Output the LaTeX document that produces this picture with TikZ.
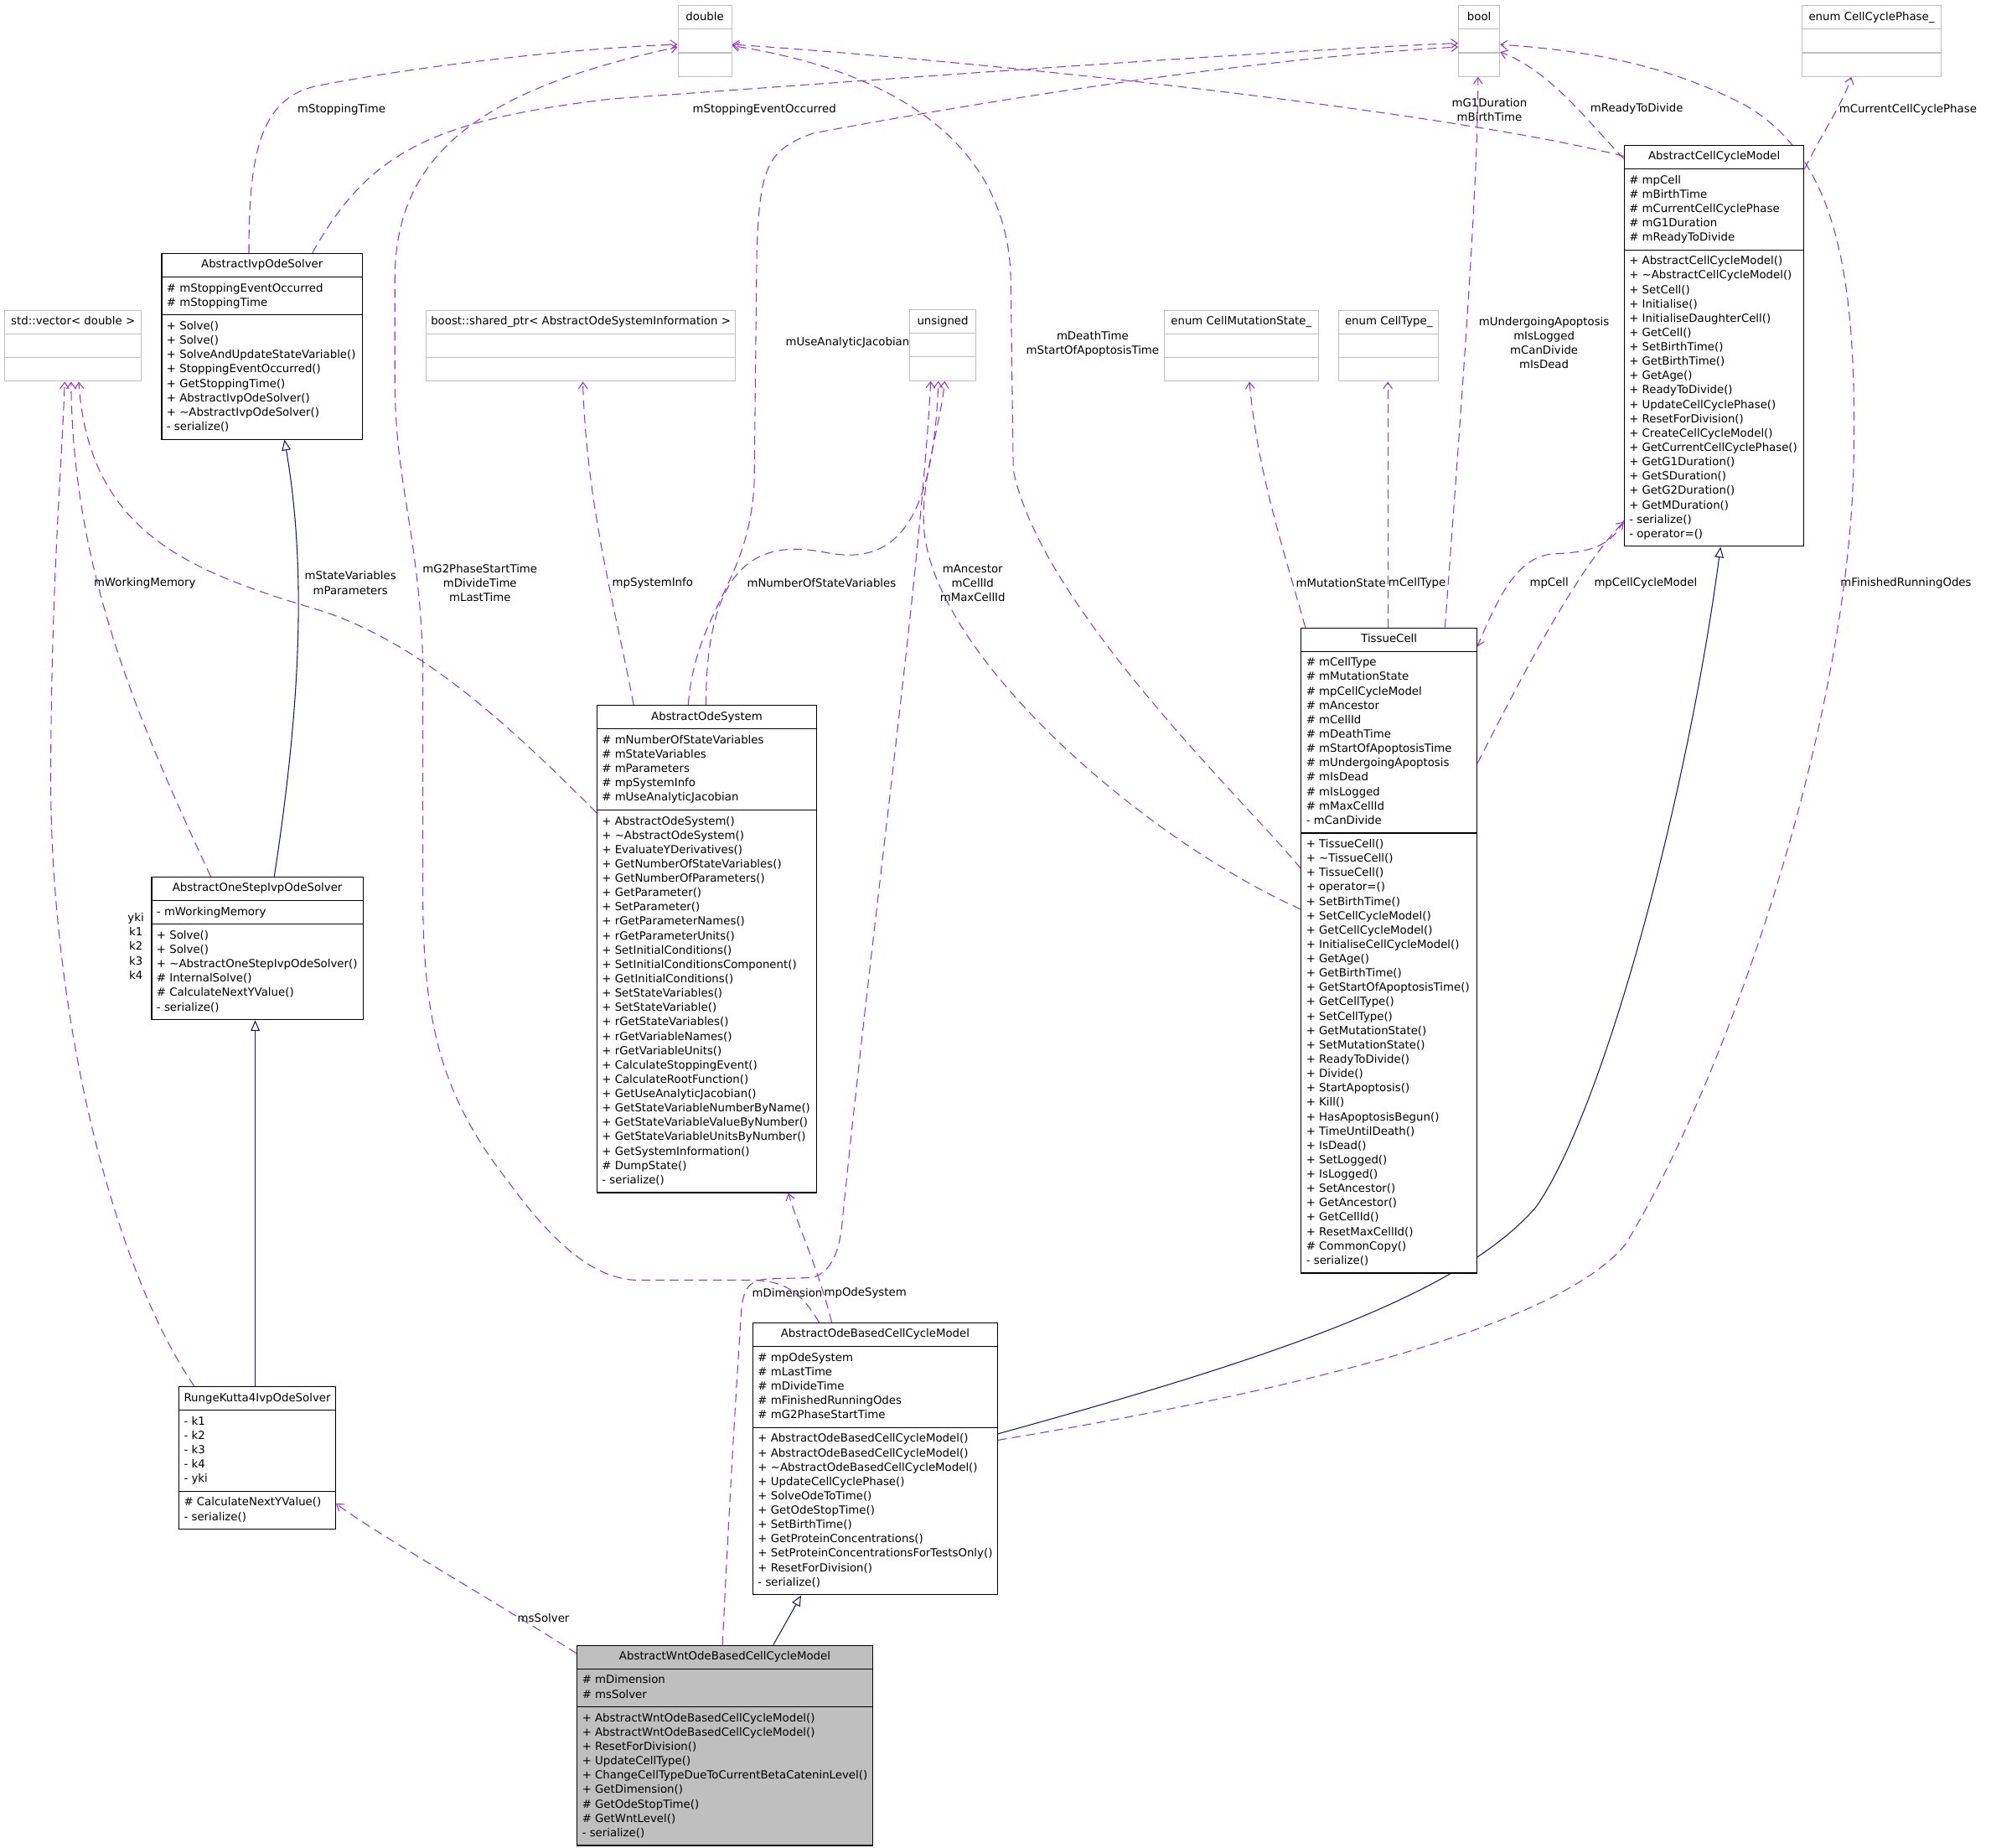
\documentclass[tikz,border=0pt]{standalone}
\usepackage{fontspec}
\setmainfont{DejaVu Sans}
\usetikzlibrary{shapes.multipart,arrows.meta,backgrounds}
\definecolor{orchid}{HTML}{9A32CD}
\definecolor{midnight}{HTML}{191970}
\definecolor{grey75}{HTML}{BFBFBF}
\newcommand{\mlist}[1]{\begin{tabular}{@{}l@{}}#1\end{tabular}}
\newcommand{\blank}{\mlist{\phantom{x}}}
\newcommand{\dtor}{\textasciitilde}

\begin{document}
\begin{tikzpicture}[
  x=0.025cm,y=-0.025cm,
  font=\fontsize{6.25}{8.04}\selectfont,
  cls/.style={rectangle split,rectangle split parts=3,draw=black,fill=white,
              line width=0.5pt,anchor=north west,inner xsep=2.8pt,inner ysep=2.35pt,
              rectangle split part align={center,left,left}},
  ext/.style={cls,draw=grey75},
  focus/.style={cls,fill=grey75},
  use/.style={draw=orchid,line width=0.5pt,dash pattern=on 5pt off 3pt,
              -{Straight Barb[length=3.5pt,width=5pt]}},
  isa/.style={draw=midnight,line width=0.5pt,
              -{Triangle[open,length=6pt,width=5pt,fill=white]}},
  lbl/.style={align=center,inner sep=0pt}
]
  \useasboundingbox (0,0) rectangle (1568,1455);

  \node[ext,minimum width=1.055cm] (dbl) at (533.6,4)
    {\mlist{double}\nodepart{two}\blank\nodepart{three}\blank};
  \node[ext,minimum width=0.81cm] (bool) at (1148.3,4)
    {\mlist{bool}\nodepart{two}\blank\nodepart{three}\blank};
  \node[ext,minimum width=2.74cm] (ccp) at (1418.8,4)
    {\mlist{enum CellCyclePhase\_}\nodepart{two}\blank\nodepart{three}\blank};
  \node[ext,minimum width=2.69cm] (vec) at (3.4,244)
    {\mlist{std::vector< double >}\nodepart{two}\blank\nodepart{three}\blank};
  \node[ext,minimum width=6.03cm] (shp) at (335.1,244)
    {\mlist{boost::shared\_ptr< AbstractOdeSystemInformation >}\nodepart{two}\blank\nodepart{three}\blank};
  \node[ext,minimum width=1.315cm] (uns) at (715.8,243.5)
    {\mlist{unsigned}\nodepart{two}\blank\nodepart{three}\blank};
  \node[ext,minimum width=3.03cm] (cms) at (916.6,244)
    {\mlist{enum CellMutationState\_}\nodepart{two}\blank\nodepart{three}\blank};
  \node[ext,minimum width=1.97cm] (cty) at (1053.9,244)
    {\mlist{enum CellType\_}\nodepart{two}\blank\nodepart{three}\blank};

  \node[cls,minimum width=3.95cm] (ivp) at (127,199.2)
    {\mlist{AbstractIvpOdeSolver}
     \nodepart{two}\mlist{\# mStoppingEventOccurred\\\# mStoppingTime}
     \nodepart{three}\mlist{+ Solve()\\+ Solve()\\+ SolveAndUpdateStateVariable()\\
       + StoppingEventOccurred()\\+ GetStoppingTime()\\+ AbstractIvpOdeSolver()\\
       + \dtor AbstractIvpOdeSolver()\\- serialize()}};

  \node[cls,minimum width=4.16cm] (osi) at (119.1,690.2)
    {\mlist{AbstractOneStepIvpOdeSolver}
     \nodepart{two}\mlist{- mWorkingMemory}
     \nodepart{three}\mlist{+ Solve()\\+ Solve()\\+ \dtor AbstractOneStepIvpOdeSolver()\\
       \# InternalSolve()\\\# CalculateNextYValue()\\- serialize()}};

  \node[cls,minimum width=3.065cm] (rk4) at (140.6,1091.5)
    {\mlist{RungeKutta4IvpOdeSolver}
     \nodepart{two}\mlist{- k1\\- k2\\- k3\\- k4\\- yki}
     \nodepart{three}\mlist{\# CalculateNextYValue()\\- serialize()}};

  \node[cls,minimum width=4.325cm] (aos) at (469.8,555)
    {\mlist{AbstractOdeSystem}
     \nodepart{two}\mlist{\# mNumberOfStateVariables\\\# mStateVariables\\\# mParameters\\
       \# mpSystemInfo\\\# mUseAnalyticJacobian}
     \nodepart{three}\mlist{+ AbstractOdeSystem()\\+ \dtor AbstractOdeSystem()\\
       + EvaluateYDerivatives()\\+ GetNumberOfStateVariables()\\+ GetNumberOfParameters()\\
       + GetParameter()\\+ SetParameter()\\+ rGetParameterNames()\\+ rGetParameterUnits()\\
       + SetInitialConditions()\\+ SetInitialConditionsComponent()\\+ GetInitialConditions()\\
       + SetStateVariables()\\+ SetStateVariable()\\+ rGetStateVariables()\\
       + rGetVariableNames()\\+ rGetVariableUnits()\\+ CalculateStoppingEvent()\\
       + CalculateRootFunction()\\+ GetUseAnalyticJacobian()\\+ GetStateVariableNumberByName()\\
       + GetStateVariableValueByNumber()\\+ GetStateVariableUnitsByNumber()\\
       + GetSystemInformation()\\\# DumpState()\\- serialize()}};

  \node[cls,minimum width=3.54cm] (acm) at (1278.8,114)
    {\mlist{AbstractCellCycleModel}
     \nodepart{two}\mlist{\# mpCell\\\# mBirthTime\\\# mCurrentCellCyclePhase\\
       \# mG1Duration\\\# mReadyToDivide}
     \nodepart{three}\mlist{+ AbstractCellCycleModel()\\+ \dtor AbstractCellCycleModel()\\
       + SetCell()\\+ Initialise()\\+ InitialiseDaughterCell()\\+ GetCell()\\+ SetBirthTime()\\
       + GetBirthTime()\\+ GetAge()\\+ ReadyToDivide()\\+ UpdateCellCyclePhase()\\
       + ResetForDivision()\\+ CreateCellCycleModel()\\+ GetCurrentCellCyclePhase()\\
       + GetG1Duration()\\+ GetSDuration()\\+ GetG2Duration()\\+ GetMDuration()\\
       - serialize()\\- operator=()}};

  \node[cls,minimum width=3.46cm] (tc) at (1024.4,494)
    {\mlist{TissueCell}
     \nodepart{two}\mlist{\# mCellType\\\# mMutationState\\\# mpCellCycleModel\\\# mAncestor\\
       \# mCellId\\\# mDeathTime\\\# mStartOfApoptosisTime\\\# mUndergoingApoptosis\\
       \# mIsDead\\\# mIsLogged\\\# mMaxCellId\\- mCanDivide}
     \nodepart{three}\mlist{+ TissueCell()\\+ \dtor TissueCell()\\+ TissueCell()\\+ operator=()\\
       + SetBirthTime()\\+ SetCellCycleModel()\\+ GetCellCycleModel()\\
       + InitialiseCellCycleModel()\\+ GetAge()\\+ GetBirthTime()\\+ GetStartOfApoptosisTime()\\
       + GetCellType()\\+ SetCellType()\\+ GetMutationState()\\+ SetMutationState()\\
       + ReadyToDivide()\\+ Divide()\\+ StartApoptosis()\\+ Kill()\\+ HasApoptosisBegun()\\
       + TimeUntilDeath()\\+ IsDead()\\+ SetLogged()\\+ IsLogged()\\+ SetAncestor()\\
       + GetAncestor()\\+ GetCellId()\\+ ResetMaxCellId()\\\# CommonCopy()\\- serialize()}};

  \node[cls,minimum width=4.79cm] (aob) at (592.6,1041.3)
    {\mlist{AbstractOdeBasedCellCycleModel}
     \nodepart{two}\mlist{\# mpOdeSystem\\\# mLastTime\\\# mDivideTime\\
       \# mFinishedRunningOdes\\\# mG2PhaseStartTime}
     \nodepart{three}\mlist{+ AbstractOdeBasedCellCycleModel()\\+ AbstractOdeBasedCellCycleModel()\\
       + \dtor AbstractOdeBasedCellCycleModel()\\+ UpdateCellCyclePhase()\\+ SolveOdeToTime()\\
       + GetOdeStopTime()\\+ SetBirthTime()\\+ GetProteinConcentrations()\\
       + SetProteinConcentrationsForTestsOnly()\\+ ResetForDivision()\\- serialize()}};

  \node[focus,minimum width=5.69cm] (awnt) at (454.2,1295.2)
    {\mlist{AbstractWntOdeBasedCellCycleModel}
     \nodepart{two}\mlist{\# mDimension\\\# msSolver}
     \nodepart{three}\mlist{+ AbstractWntOdeBasedCellCycleModel()\\
       + AbstractWntOdeBasedCellCycleModel()\\+ ResetForDivision()\\+ UpdateCellType()\\
       + ChangeCellTypeDueToCurrentBetaCateninLevel()\\+ GetDimension()\\
       \# GetOdeStopTime()\\\# GetWntLevel()\\- serialize()}};

  \begin{scope}[on background layer]
    \draw[isa] (osi.north -| 216,0) .. controls (236,560) and (242,450) .. (ivp.south -| 224,0);
    \draw[isa] (rk4.north -| 201,0) -- (osi.south -| 201,0);
    \draw[isa] (aob.east |- 0,1129) .. controls (1000,1070) and (1150,1020) .. (1210,950)
      .. controls (1265,870) and (1330,620) .. (acm.south -| 1355,0);
    \draw[isa] (awnt.north -| 609,0) -- (aob.south -| 631,0);

    \draw[use] (ivp.north -| 196,0) .. controls (196,120) and (205,75) .. (253,67)
      .. controls (330,52) and (450,38) .. (dbl.west |- 0,35);
    \draw[use] (ivp.north -| 246,0) .. controls (290,120) and (340,95) .. (480,78)
      .. controls (700,62) and (1000,40) .. (bool.west |- 0,34);
    \draw[use] (acm.west |- 0,123) .. controls (1150,90) and (800,50) .. (dbl.east |- 0,35);
    \draw[use] (acm.west |- 0,125) .. controls (1250,95) and (1220,55) .. (bool.east |- 0,41);
    \draw[use] (acm.east |- 0,133) .. controls (1435,105) and (1452,80) .. (ccp.south -| 1458,0);
    \draw[use] (aob.east |- 0,1134) .. controls (1050,1090) and (1230,1040) .. (1280,980)
      .. controls (1360,850) and (1460,560) .. (1460,350)
      .. controls (1462,200) and (1440,120) .. (1373,82)
      .. controls (1310,50) and (1250,40) .. (bool.east |- 0,35);
    \draw[use] (tc.north -| 1138,0) .. controls (1150,330) and (1164,150) .. (bool.south -| 1164,0);
    \draw[use] (tc.north -| 1028,0) .. controls (1010,430) and (990,370) .. (cms.south -| 984,0);
    \draw[use] (tc.north -| 1093,0) -- (cty.south -| 1093,0);
    \draw[use] (acm.west |- 0,410) .. controls (1270,428) and (1255,435) .. (1225,436)
      .. controls (1195,437) and (1180,470) .. (tc.east |- 0,509);
    \draw[use] (tc.east |- 0,601) .. controls (1195,540) and (1240,450) .. (acm.west |- 0,411);
    \draw[use] (tc.west |- 0,684) .. controls (990,640) and (820,480) .. (798,370) -- (796,220)
      .. controls (794,110) and (700,55) .. (dbl.east |- 0,36);
    \draw[use] (tc.west |- 0,716) .. controls (900,660) and (740,520) .. (728,420)
      .. controls (724,380) and (740,340) .. (uns.south -| 744,0);

    \draw[use] (osi.north -| 166,0) .. controls (110,570) and (57,450) .. (vec.south -| 56,0);
    \draw[use] (rk4.north -| 153,0) .. controls (90,1000) and (38,800) .. (40,600)
      .. controls (41,450) and (48,380) .. (vec.south -| 51,0);
    \draw[use] (aos.west |- 0,640) .. controls (400,570) and (330,505) .. (250,480)
      .. controls (150,450) and (70,420) .. (vec.south -| 62,0);
    \draw[use] (aos.north -| 499,0) .. controls (485,480) and (462,400) .. (shp.south -| 459,0);
    \draw[use] (aos.north -| 542,0) .. controls (548,480) and (590,460) .. (594,380) -- (596,200)
      .. controls (598,130) and (605,118) .. (640,105)
      .. controls (800,75) and (1000,45) .. (bool.west |- 0,37);
    \draw[use] (aos.north -| 556,0) .. controls (556,440) and (600,425) .. (650,435)
      .. controls (700,445) and (735,420) .. (uns.south -| 739,0);
    \draw[use] (awnt.north -| 569,0) .. controls (576,1150) and (582,1060) .. (584,1030)
      .. controls (586,1012) and (592,1008) .. (605,1007) -- (640,1006)
      .. controls (658,1000) and (662,980) .. (664,955)
      .. controls (690,700) and (725,450) .. (uns.south -| 733,0);
    \draw[use] (aob.north -| 645,0) .. controls (630,1015) and (615,1008) .. (590,1008) -- (500,1008)
      .. controls (470,1006) and (440,985) .. (400,930)
      .. controls (345,860) and (333,800) .. (333,700) -- (333,520)
      .. controls (330,420) and (311,380) .. (311,300) -- (311,220)
      .. controls (311,120) and (380,70) .. (dbl.west |- 0,37);
    \draw[use] (aob.north -| 655,0) .. controls (645,1000) and (628,965) .. (aos.south -| 621,0);
    \draw[use] (awnt.west |- 0,1302) .. controls (380,1255) and (300,1210) .. (rk4.east |- 0,1184);

    \node[lbl] (lStopT) at (269,86.6) {mStoppingTime};
    \node[lbl] (lStopE) at (602,86.6) {mStoppingEventOccurred};
    \node[lbl] (lG1) at (1173,86.5) {mG1Duration\\mBirthTime};
    \node[lbl] (lReady) at (1289,86) {mReadyToDivide};
    \node[lbl] (lPhase) at (1502.6,86.2) {mCurrentCellCyclePhase};
    \node[lbl] (lJac) at (667.5,270) {mUseAnalyticJacobian};
    \node[lbl] (lDeath) at (860.5,270.5) {mDeathTime\\mStartOfApoptosisTime};
    \node[lbl] (lApop) at (1216,270) {mUndergoingApoptosis\\mIsLogged\\mCanDivide\\mIsDead};
    \node[lbl] (lWork) at (114,459) {mWorkingMemory};
    \node[lbl] (lState) at (276,459) {mStateVariables\\mParameters};
    \node[lbl] (lG2) at (378,459) {mG2PhaseStartTime\\mDivideTime\\mLastTime};
    \node[lbl] (lInfo) at (514,459) {mpSystemInfo};
    \node[lbl] (lNum) at (647,459) {mNumberOfStateVariables};
    \node[lbl] (lAnc) at (766,459) {mAncestor\\mCellId\\mMaxCellId};
    \node[lbl] (lMut) at (1056,459) {mMutationState};
    \node[lbl] (lType) at (1116,459) {mCellType};
    \node[lbl] (lCell) at (1220,459) {mpCell};
    \node[lbl] (lModel) at (1296,459) {mpCellCycleModel};
    \node[lbl] (lOdes) at (1501,459) {mFinishedRunningOdes};
    \node[lbl] (lRk) at (107,745) {yki\\k1\\k2\\k3\\k4};
    \node[lbl] (lDim) at (620,1018) {mDimension};
    \node[lbl] (lOde) at (681.5,1018) {mpOdeSystem};
    \node[lbl] (lSolv) at (428,1274) {msSolver};
  \end{scope}
\end{tikzpicture}
\end{document}
